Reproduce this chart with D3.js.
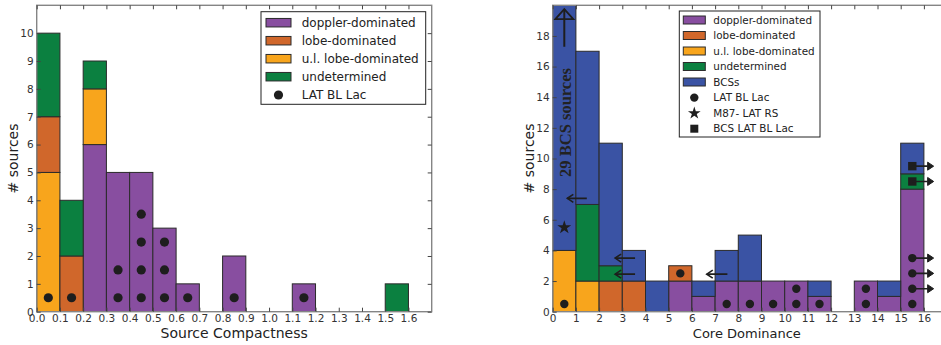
<!DOCTYPE html>
<html><head><meta charset="utf-8">
<script src="https://cdn.jsdelivr.net/npm/d3@7"></script>
<style>body{margin:0;background:#fff}svg{display:block}svg{font-family:"DejaVu Sans",sans-serif}</style>
</head><body>
<svg id="c" width="941" height="345"></svg>
<script>
// ---------- data ----------
const leftBinStarts = [0.0,0.1,0.2,0.3,0.4,0.5,0.6,0.7,0.8,0.9,1.0,1.1,1.2,1.3,1.4,1.5];
const leftDoppler = [0,0,6,5,5,3,1,0,2,0,0,1,0,0,0,0];
const leftUL      = [5,0,2,0,0,0,0,0,0,0,0,0,0,0,0,0];
const leftLobe    = [2,2,0,0,0,0,0,0,0,0,0,0,0,0,0,0];
const leftUndet   = [3,2,1,0,0,0,0,0,0,0,0,0,0,0,0,1];
const leftDotX = [0.05,0.15,0.35,0.35,0.45,0.45,0.45,0.45,0.55,0.55,0.55,0.65,0.85,1.15];
const leftDotY = [0.5,0.5,0.5,1.5,0.5,1.5,2.5,3.5,0.5,1.5,2.5,0.5,0.5,0.5];
const leftXTicks = [0,0.1,0.2,0.3,0.4,0.5,0.6,0.7,0.8,0.9,1.0,1.1,1.2,1.3,1.4,1.5,1.6];
const leftYTicks = [0,1,2,3,4,5,6,7,8,9,10];

const rightBinStarts = [0,1,2,3,4,5,6,7,8,9,10,11,12,13,14,15];
const rightDoppler = [0,0,0,0,0,2,1,2,2,2,2,1,0,2,1,8];
const rightUL      = [4,2,0,0,0,0,0,0,0,0,0,0,0,0,0,0];
const rightLobe    = [0,0,2,2,0,1,0,0,0,0,0,0,0,0,0,0];
const rightUndet   = [0,5,1,0,0,0,0,0,0,0,0,0,0,0,0,1];
const rightBCS     = [29,10,8,2,2,0,1,2,3,0,0,1,0,0,1,2];
const rightDotX = [0.5,5.5,7.5,8.5,9.5,10.5,10.5,11.5,13.5,13.5,15.5,15.5,15.5,15.5];
const rightDotY = [0.5,2.5,0.5,0.5,0.5,0.5,1.5,0.5,0.5,1.5,0.5,1.5,2.5,3.5];
const starX = [0.5], starY = [5.5];
const squareX = [15.5,15.5], squareY = [8.5,9.5];
const rArrowX0 = [15.5,15.5,15.5,15.5,15.5], rArrowY = [1.5,2.5,3.5,8.5,9.5], rArrowX1 = 16.42;
const lArrowX0 = [1.47,3.55,3.55,7.53], lArrowX1 = [0.63,2.69,2.69,6.64], lArrowY = [7.4,3.5,2.45,2.45];
const upArrowX = 0.5, upArrowY0 = 17.3, upArrowY1 = 19.75;
const rightXTicks = d3.range(0,17);
const rightYTicks = [0,2,4,6,8,10,12,14,16,18];

const colors = {"doppler-dominated":"#884ea0","lobe-dominated":"#d0672b","u.l. lobe-dominated":"#f8a51c","undetermined":"#0b8040","BCSs":"#3a53a4"};
// stacking order (bottom to top)
const stackOrder = ["doppler-dominated","u.l. lobe-dominated","lobe-dominated","undetermined","BCSs"];

const svg = d3.select("#c");
const frameCol = "#858585", edgeCol = "#2b2b2b", txtCol = "#333";

function panel(cfg){
  const g = svg.append("g");
  const x = d3.scaleLinear().domain(cfg.xdom).range(cfg.xr);
  const y = d3.scaleLinear().domain(cfg.ydom).range([311.7,5.3]);
  const cid = "clip"+cfg.id;
  svg.append("clipPath").attr("id",cid).append("rect")
    .attr("x",cfg.xr[0]).attr("y",5.3).attr("width",cfg.xr[1]-cfg.xr[0]).attr("height",311.7-5.3);
  const pg = g.append("g").attr("clip-path",`url(#${cid})`);
  const rows = cfg.bins.map((b,i)=>{const r={b}; cfg.series.forEach(s=>r[s.name]=s.vals[i]); return r;});
  const keys = stackOrder.filter(k=>cfg.series.some(s=>s.name===k));
  const stacked = d3.stack().keys(keys)(rows);
  pg.selectAll("line.zero").data(cfg.bins).join("line")
    .attr("x1",d=>x(d)).attr("x2",d=>x(d+cfg.w)).attr("y1",y(0)).attr("y2",y(0))
    .attr("stroke",edgeCol).attr("stroke-width",1.6);
  stacked.forEach(layer=>{
    pg.selectAll(null).data(layer.filter(d=>d[1]>d[0])).join("rect")
      .attr("x",d=>x(d.data.b)).attr("width",d=>x(d.data.b+cfg.w)-x(d.data.b))
      .attr("y",d=>y(d[1])).attr("height",d=>y(d[0])-y(d[1]))
      .attr("fill",colors[layer.key]).attr("stroke",edgeCol).attr("stroke-width",1);
  });
  cfg.extra && cfg.extra(pg,x,y);
  pg.selectAll(null).data(cfg.dotX).join("circle")
    .attr("cx",d=>x(d)).attr("cy",(d,i)=>y(cfg.dotY[i])).attr("r",cfg.dotR).attr("fill","#1e1e1e");
  g.append("rect").attr("x",cfg.xr[0]).attr("y",5.3).attr("width",cfg.xr[1]-cfg.xr[0]).attr("height",311.7-5.3)
    .attr("fill","none").attr("stroke",frameCol).attr("stroke-width",1.4);
  const ax = (gen,tr)=>{const a=g.append("g").attr("transform",tr).call(gen);
    a.select(".domain").remove(); a.selectAll("line").attr("stroke","#444");
    a.selectAll("text").attr("fill",txtCol).style("font-size","10.5px").style("font-family","'DejaVu Sans',sans-serif"); return a;};
  ax(d3.axisBottom(x).tickValues(cfg.xticks).tickFormat(cfg.xfmt).tickSize(-4).tickPadding(3),`translate(0,${y(0)})`);
  ax(d3.axisTop(x).tickValues(cfg.xticks).tickFormat("").tickSize(-4),`translate(0,5.3)`);
  ax(d3.axisLeft(y).tickValues(cfg.yticks).tickFormat(d3.format("d")).tickSize(-4).tickPadding(3),`translate(${cfg.xr[0]},0)`);
  ax(d3.axisRight(y).tickValues(cfg.yticks).tickFormat("").tickSize(-4),`translate(${cfg.xr[1]},0)`);
  g.append("text").attr("x",(cfg.xr[0]+Math.min(cfg.xr[1],941))/2).attr("y",338).attr("text-anchor","middle")
    .style("font-size",cfg.xlabSize+"px").attr("fill","#222").text(cfg.xlab);
  g.append("text").attr("transform",`translate(${cfg.ylabX},158.5) rotate(-90)`).attr("text-anchor","middle")
    .attr("dy","0.35em").style("font-size","14px").attr("fill","#222").text("# sources");
  return {g,x,y};
}

panel({id:"L", xdom:[0,1.7], xr:[36.7,431.7], ydom:[0,11], bins:leftBinStarts, w:0.1,
  series:[{name:"doppler-dominated",vals:leftDoppler},{name:"u.l. lobe-dominated",vals:leftUL},
          {name:"lobe-dominated",vals:leftLobe},{name:"undetermined",vals:leftUndet}],
  dotX:leftDotX, dotY:leftDotY, dotR:4.6, xticks:leftXTicks, yticks:leftYTicks, xfmt:d3.format(".1f"),
  xlab:"Source Compactness", xlabSize:14, ylabX:12.7});

panel({id:"R", xdom:[0,17], xr:[552.7,947.1], ydom:[0,20], bins:rightBinStarts, w:1,
  series:[{name:"doppler-dominated",vals:rightDoppler},{name:"u.l. lobe-dominated",vals:rightUL},
          {name:"lobe-dominated",vals:rightLobe},{name:"undetermined",vals:rightUndet},{name:"BCSs",vals:rightBCS}],
  dotX:rightDotX, dotY:rightDotY, dotR:4.2, xticks:rightXTicks, yticks:rightYTicks, xfmt:d3.format("d"),
  xlab:"Core Dominance", xlabSize:13, ylabX:529,
  extra:(pg,x,y)=>{
    pg.selectAll(null).data(starX).join("path")
      .attr("d",d3.symbol(d3.symbolStar,60)).attr("transform",(d,i)=>`translate(${x(d)},${y(starY[i])})`).attr("fill","#1e1e1e");
    pg.selectAll(null).data(squareX).join("rect")
      .attr("x",d=>x(d)-4.2).attr("y",(d,i)=>y(squareY[i])-4.2).attr("width",8.4).attr("height",8.4).attr("fill","#1e1e1e");
    rArrowY.forEach((yy,i)=>{
      const x0=x(rArrowX0[i]), x1=x(rArrowX1), yp=y(yy);
      pg.append("line").attr("x1",x0).attr("x2",x1-6).attr("y1",yp).attr("y2",yp).attr("stroke","#1e1e1e").attr("stroke-width",1.6);
      pg.append("path").attr("d",`M${x1-6},${yp-4}L${x1},${yp}L${x1-6},${yp+4}Z`).attr("fill","#1e1e1e").attr("stroke","#1e1e1e").attr("stroke-width",1);
    });
    lArrowY.forEach((yy,i)=>{
      const x0=x(lArrowX0[i]), x1=x(lArrowX1[i]), yp=y(yy);
      pg.append("line").attr("x1",x0).attr("x2",x1).attr("y1",yp).attr("y2",yp).attr("stroke","#1e1e1e").attr("stroke-width",1.8);
      pg.append("path").attr("d",`M${x1+6},${yp-4}L${x1},${yp}L${x1+6},${yp+4}`).attr("fill","none").attr("stroke","#1e1e1e").attr("stroke-width",1.6);
    });
    const ux=x(upArrowX), uy0=y(upArrowY0), uy1=y(upArrowY1);
    pg.append("line").attr("x1",ux).attr("x2",ux).attr("y1",uy0).attr("y2",uy1).attr("stroke","#1e1e1e").attr("stroke-width",2);
    pg.append("path").attr("d",`M${ux-9},${uy1+10}L${ux},${uy1}L${ux+9},${uy1+10}Z`).attr("fill","none").attr("stroke","#1e1e1e").attr("stroke-width",1.8);
    pg.append("text").attr("transform",`translate(${ux+1},122.5) rotate(-90)`).attr("text-anchor","middle").attr("dy","0.35em")
      .style("font-family","'Liberation Serif','DejaVu Serif',serif").style("font-weight","bold").style("font-size","16.5px")
      .attr("fill","#222").text("29 BCS sources");
  }});

function legend(L){
  const g = svg.append("g");
  g.append("rect").attr("x",L.x0).attr("y",L.y0).attr("width",L.x1-L.x0).attr("height",L.y1-L.y0)
    .attr("fill","#fff").attr("stroke","#222").attr("stroke-width",1);
  L.items.forEach((it,i)=>{
    const cy = L.rowY[i];
    if(it.type==="patch"){
      g.append("rect").attr("x",L.px).attr("y",cy-L.ph/2).attr("width",L.pw).attr("height",L.ph)
        .attr("fill",colors[it.name]).attr("stroke",edgeCol).attr("stroke-width",1);
    } else if(it.type==="circle"){
      g.append("circle").attr("cx",L.px+L.pw/2).attr("cy",cy).attr("r",L.mr).attr("fill","#1e1e1e");
    } else if(it.type==="star"){
      g.append("path").attr("d",d3.symbol(d3.symbolStar,50)).attr("transform",`translate(${L.px+L.pw/2},${cy})`).attr("fill","#1e1e1e");
    } else {
      g.append("rect").attr("x",L.px+L.pw/2-4).attr("y",cy-4).attr("width",8).attr("height",8).attr("fill","#1e1e1e");
    }
    g.append("text").attr("x",L.tx).attr("y",cy).attr("dy","0.36em").style("font-size",L.fs+"px").attr("fill","#222").text(it.label);
  });
}
legend({x0:261,x1:425.7,y0:11.7,y1:104.3,rowY:[22.7,40.7,58.7,76.7,95],px:266,pw:25,ph:8.5,tx:301.7,fs:12,mr:4.6,
  items:[{type:"patch",name:"doppler-dominated",label:"doppler-dominated"},{type:"patch",name:"lobe-dominated",label:"lobe-dominated"},
         {type:"patch",name:"u.l. lobe-dominated",label:"u.l. lobe-dominated"},{type:"patch",name:"undetermined",label:"undetermined"},
         {type:"circle",label:"LAT BL Lac"}]});
legend({x0:679.3,x1:820,y0:11,y1:137,rowY:[20,35.5,51,66.5,82,97.6,113.2,128.7],px:683.3,pw:22,ph:8,tx:713.3,fs:10.4,mr:4.2,
  items:[{type:"patch",name:"doppler-dominated",label:"doppler-dominated"},{type:"patch",name:"lobe-dominated",label:"lobe-dominated"},
         {type:"patch",name:"u.l. lobe-dominated",label:"u.l. lobe-dominated"},{type:"patch",name:"undetermined",label:"undetermined"},
         {type:"patch",name:"BCSs",label:"BCSs"},{type:"circle",label:"LAT BL Lac"},{type:"star",label:"M87- LAT RS"},{type:"square",label:"BCS LAT BL Lac"}]});
</script>
</body></html>
